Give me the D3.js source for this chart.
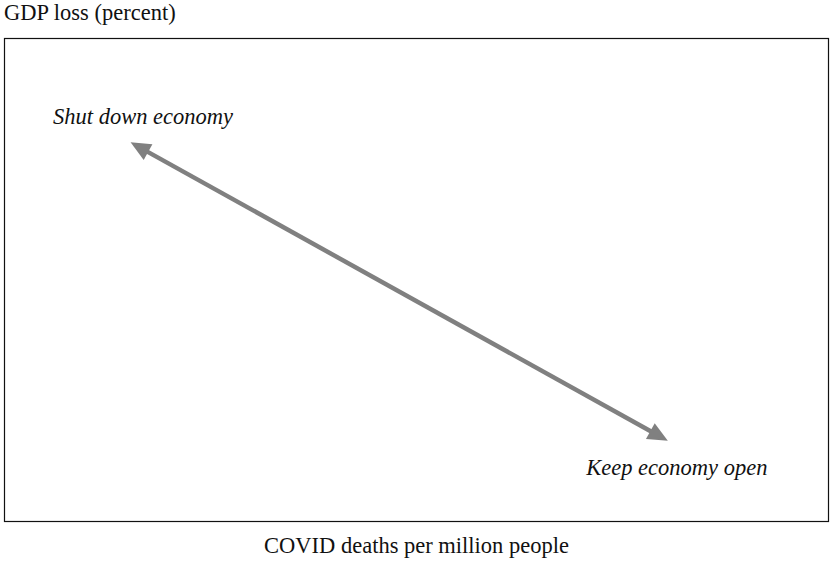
<!DOCTYPE html>
<html>
<head>
<meta charset="utf-8">
<script src="https://cdn.jsdelivr.net/npm/d3@7"></script>
<style>
  body { margin: 0; background: #fff; }
  text { font-family: "Liberation Serif", "Times New Roman", serif; fill: #111; }
</style>
</head>
<body>
<svg id="chart"></svg>
<script>
var width = 830, height = 562;

// axis titles
var yTitle = "GDP loss (percent)";
var xTitle = "COVID deaths per million people";

// arrow end points (data units, 0..10 on both axes)
var arrowX = [1.53, 8.05];
var arrowY = [7.85, 1.67];

// annotations
var labels = ["Shut down economy", "Keep economy open"];
var labelX = [0.59, 7.06];
var labelY = [8.24, 0.96];

var margin = {top: 38.5, right: 1.5, bottom: 40.5, left: 4.5};
var fontSize = 22.5;

var svg = d3.select("#chart")
    .attr("width", width)
    .attr("height", height);

var x = d3.scaleLinear().domain([0, 10]).range([margin.left, width - margin.right]);
var y = d3.scaleLinear().domain([0, 10]).range([height - margin.bottom, margin.top]);

// frame
svg.append("rect")
    .attr("x", x(0))
    .attr("y", y(10))
    .attr("width", x(10) - x(0))
    .attr("height", y(0) - y(10))
    .attr("fill", "none")
    .attr("stroke", "#111")
    .attr("stroke-width", 1.2);

svg.append("text")
    .attr("x", 4)
    .attr("y", 20)
    .attr("font-size", fontSize)
    .text(yTitle);

svg.append("text")
    .attr("x", (x(0) + x(10)) / 2)
    .attr("y", 553)
    .attr("text-anchor", "middle")
    .attr("font-size", fontSize)
    .text(xTitle);

// double headed arrow
var x1 = x(arrowX[0]), y1 = y(arrowY[0]);
var x2 = x(arrowX[1]), y2 = y(arrowY[1]);
var ang = Math.atan2(y2 - y1, x2 - x1);
var headLen = 20, headW = 9, color = "#808080";

function head(tx, ty, a) {
    // a = direction the tip points
    var bx = tx - headLen * Math.cos(a), by = ty - headLen * Math.sin(a);
    var px = -Math.sin(a) * headW, py = Math.cos(a) * headW;
    return [[tx, ty], [bx + px, by + py], [bx - px, by - py]];
}

var inset = headLen * 0.8;
svg.append("line")
    .attr("x1", x1 + inset * Math.cos(ang))
    .attr("y1", y1 + inset * Math.sin(ang))
    .attr("x2", x2 - inset * Math.cos(ang))
    .attr("y2", y2 - inset * Math.sin(ang))
    .attr("stroke", color)
    .attr("stroke-width", 4.5);

svg.selectAll(".head")
    .data([head(x1, y1, ang + Math.PI), head(x2, y2, ang)])
    .enter().append("polygon")
    .attr("class", "head")
    .attr("points", function(d) { return d.map(function(p) { return p.join(","); }).join(" "); })
    .attr("fill", color);

svg.selectAll(".lbl")
    .data(labels)
    .enter().append("text")
    .attr("class", "lbl")
    .attr("x", function(d, i) { return x(labelX[i]); })
    .attr("y", function(d, i) { return y(labelY[i]); })
    .attr("font-size", fontSize)
    .attr("font-style", "italic")
    .text(function(d) { return d; });
</script>
</body>
</html>
